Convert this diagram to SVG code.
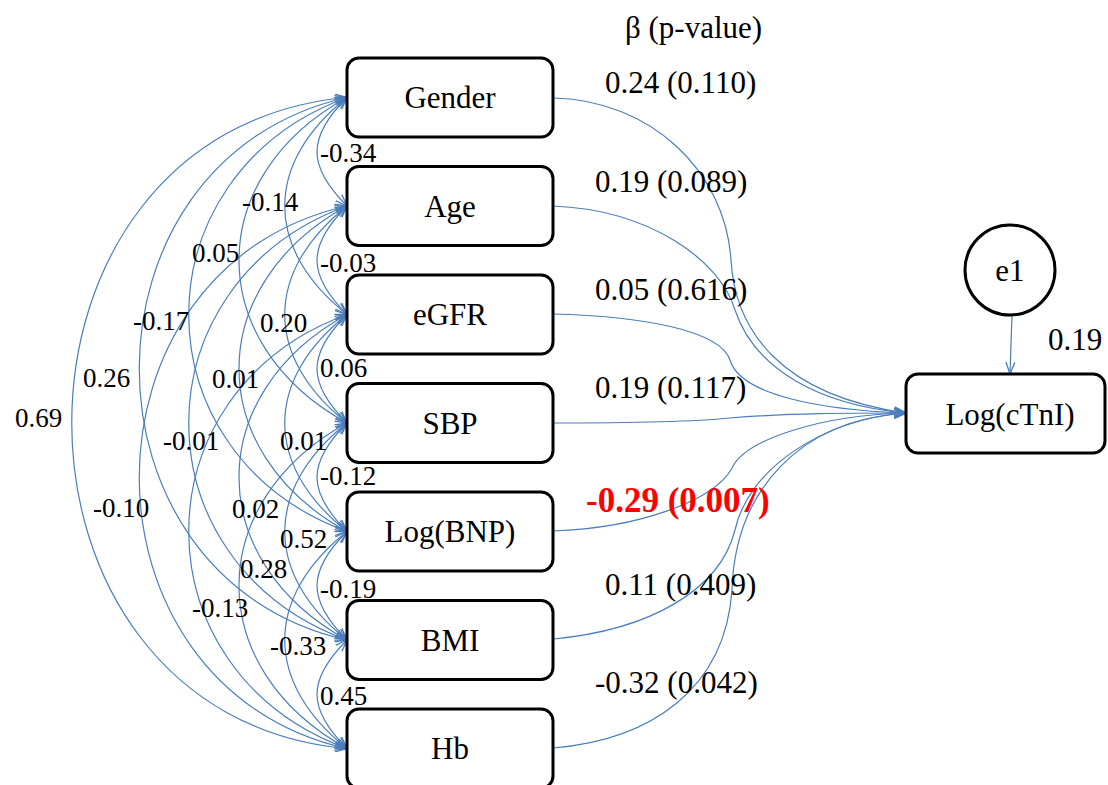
<svg xmlns="http://www.w3.org/2000/svg" width="1108" height="785" viewBox="0 0 1108 785">
<style>
.box{fill:#fff;stroke:#000;stroke-width:3}
.lbl{font-family:"Liberation Serif","Times New Roman",serif;font-size:31px;fill:#000}
.cov{font-family:"Liberation Serif","Times New Roman",serif;font-size:27px;fill:#000}
.ln{fill:none;stroke:#4a7ebb;stroke-width:1.2}
</style>
<defs>
<marker id="ah" viewBox="0 0 12 10" refX="12" refY="5" markerWidth="12" markerHeight="10" orient="auto-start-reverse" markerUnits="userSpaceOnUse">
<path d="M0,0.5 L12,5 L0,9.5" fill="none" stroke="#4a7ebb" stroke-width="1.3"/>
</marker>
</defs>
<rect width="1108" height="785" fill="#fff"/>
<g id="connectors">
<g id="covariances" class="ln" marker-start="url(#ah)" marker-end="url(#ah)">
<path d="M347,97.5 C307,137.5 307,166 347,206"/>
<path d="M347,206 C307,246 307,274.5 347,314.5"/>
<path d="M347,314.5 C307,354.5 307,383 347,423"/>
<path d="M347,423 C307,463 307,491.5 347,531.5"/>
<path d="M347,531.5 C307,571.5 307,600 347,640"/>
<path d="M347,640 C307,680 307,708.5 347,748.5"/>
<path d="M347,97.5 C264,163.5 264,248.5 347,314.5"/>
<path d="M347,206 C264,272 264,357 347,423"/>
<path d="M347,314.5 C264,380.5 264,465.5 347,531.5"/>
<path d="M347,423 C264,489 264,574 347,640"/>
<path d="M347,531.5 C264,597.5 264,682.5 347,748.5"/>
<path d="M347,97.5 C203,176.5 203,344 347,423"/>
<path d="M347,206 C203,285 203,452.5 347,531.5"/>
<path d="M347,314.5 C203,393.5 203,561 347,640"/>
<path d="M347,423 C203,502 203,669.5 347,748.5"/>
<path d="M347,97.5 C136,174.5 136,454.5 347,531.5"/>
<path d="M347,206 C136,283 136,563 347,640"/>
<path d="M347,314.5 C136,391.5 136,671.5 347,748.5"/>
<path d="M347,97.5 C70,159.5 70,578 347,640"/>
<path d="M347,206 C70,268 70,686.5 347,748.5"/>
<path d="M347,97.5 C-20,130.5 -20,715.5 347,748.5"/>
</g>
<g id="paths" class="ln" marker-end="url(#ah)">
<path d="M553,98 C650,100 725,170 731,260 C735,330 780,395 906,413"/>
<path d="M553,206 C650,210 720,260 735,310 C755,370 820,405 906,413"/>
<path d="M553,314 C640,316 720,330 730,360 C740,395 820,410 906,413"/>
<path d="M553,423 C640,423 700,421 730,418 C790,413 850,413 906,413"/>
<path d="M553,531 C640,528 715,500 732,468 C745,440 820,415 906,413"/>
<path d="M553,639 C650,630 720,590 735,530 C748,470 820,420 906,413"/>
<path d="M553,748 C650,740 725,690 732,590 C735,490 800,420 906,413"/>
<path d="M1012,315 L1010,374"/>
</g>
</g>
<g id="cov-labels" class="cov">
<text x="320" y="162">-0.34</text>
<text x="242" y="211">-0.14</text>
<text x="192" y="262">0.05</text>
<text x="133" y="330">-0.17</text>
<text x="83" y="387">0.26</text>
<text x="15" y="427">0.69</text>
<text x="320" y="272">-0.03</text>
<text x="260" y="332">0.20</text>
<text x="212" y="388">0.01</text>
<text x="163" y="450">-0.01</text>
<text x="93" y="517">-0.10</text>
<text x="320" y="377">0.06</text>
<text x="280" y="450">0.01</text>
<text x="232" y="518">0.02</text>
<text x="192" y="617">-0.13</text>
<text x="320" y="485">-0.12</text>
<text x="280" y="548">0.52</text>
<text x="240" y="578">0.28</text>
<text x="320" y="598">-0.19</text>
<text x="270" y="655">-0.33</text>
<text x="320" y="705">0.45</text>
</g>
<g id="path-labels" class="lbl">
<text x="625" y="38">β (p-value)</text>
<text x="605" y="93">0.24 (0.110)</text>
<text x="595" y="192">0.19 (0.089)</text>
<text x="595" y="300">0.05 (0.616)</text>
<text x="595" y="398">0.19 (0.117)</text>
<text x="586" y="512" style="font-weight:bold;font-size:35px;fill:#ff0000">-0.29 (0.007)</text>
<text x="605" y="595">0.11 (0.409)</text>
<text x="595" y="693">-0.32 (0.042)</text>
<text x="1048" y="350">0.19</text>
</g>
<g id="node-gender"><rect class="box" x="347" y="58" width="206" height="79" rx="12"/><text class="lbl" x="450" y="108" text-anchor="middle">Gender</text></g>
<g id="node-age"><rect class="box" x="347" y="166.5" width="206" height="79" rx="12"/><text class="lbl" x="450" y="216.5" text-anchor="middle">Age</text></g>
<g id="node-egfr"><rect class="box" x="347" y="275" width="206" height="79" rx="12"/><text class="lbl" x="450" y="325" text-anchor="middle">eGFR</text></g>
<g id="node-sbp"><rect class="box" x="347" y="383.5" width="206" height="79" rx="12"/><text class="lbl" x="450" y="433.5" text-anchor="middle">SBP</text></g>
<g id="node-logbnp"><rect class="box" x="347" y="492" width="206" height="79" rx="12"/><text class="lbl" x="450" y="542" text-anchor="middle">Log(BNP)</text></g>
<g id="node-bmi"><rect class="box" x="347" y="600.5" width="206" height="79" rx="12"/><text class="lbl" x="450" y="650.5" text-anchor="middle">BMI</text></g>
<g id="node-hb"><rect class="box" x="347" y="709" width="206" height="79" rx="12"/><text class="lbl" x="450" y="759" text-anchor="middle">Hb</text></g>
<g id="node-logctni"><rect class="box" x="906" y="374" width="199" height="79" rx="12"/><text class="lbl" x="1010" y="425" text-anchor="middle">Log(cTnI)</text></g>
<g id="node-e1"><circle cx="1010" cy="270" r="45" fill="#fff" stroke="#000" stroke-width="3"/><text class="lbl" x="1010" y="281" text-anchor="middle">e1</text></g>
</svg>
